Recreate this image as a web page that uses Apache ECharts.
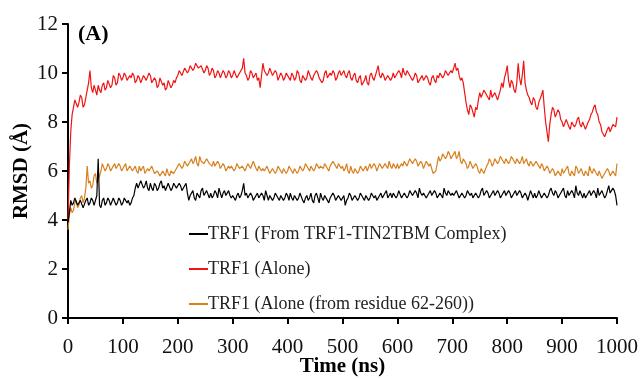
<!DOCTYPE html>
<html><head><meta charset="utf-8">
<script src="https://cdn.jsdelivr.net/npm/echarts@6/dist/echarts.min.js"></script>
<style>html,body{margin:0;padding:0;background:#fff}#c{width:643px;height:379px}</style>
</head><body><div id="c"></div>
<script>
// time axis (ns), one sample every 2.5 ns
const timeStart = 0, timeStep = 2.5;
const xTicks = [0,100,200,300,400,500,600,700,800,900,1000];
const yTicks = [0,2,4,6,8,10,12];
const seriesNames = ['TRF1 (From TRF1-TIN2TBM Complex)','TRF1 (Alone)','TRF1 (Alone (from residue 62-260))'];

const rmsdComplex = [
3.9,4.3,4.8,4.6,4.7,4.9,4.9,4.6,4.6,4.8,4.8,4.5,4.5,4.8,4.9,4.6,4.7,4.9,4.8,4.6,4.6,5.0,6.5,4.6,4.5,4.8,4.9,4.6,4.7,4.9,4.8,4.6,4.6,4.9,4.9,4.6,4.7,4.9,4.8,4.6,
4.7,4.9,4.9,4.7,4.8,4.6,4.7,4.9,5.0,5.3,5.5,5.3,5.3,5.6,5.6,5.3,5.4,5.6,5.3,5.2,5.5,5.3,5.2,5.5,5.4,5.2,5.3,5.5,5.6,5.3,5.4,5.2,5.2,5.5,5.5,5.2,5.3,5.5,5.4,5.3,
5.3,5.5,5.4,5.2,5.2,5.4,5.5,5.1,4.8,5.0,5.0,5.2,4.9,4.8,5.1,5.0,4.9,5.2,5.3,5.0,5.0,5.2,5.2,4.9,5.1,4.9,5.0,5.2,5.1,4.9,5.3,5.1,4.9,5.1,5.2,5.0,5.0,5.2,5.0,4.9,
5.0,4.9,4.8,5.0,5.1,4.9,5.0,5.2,5.5,5.0,5.1,4.9,4.9,5.1,5.0,4.8,4.8,5.0,5.1,4.9,4.9,5.1,5.0,4.8,5.2,5.0,4.8,5.0,5.0,4.8,4.9,5.1,5.1,4.9,4.8,5.0,5.0,4.8,4.9,5.1,
5.0,4.8,5.1,4.9,4.8,5.0,5.0,4.8,4.9,5.1,5.1,4.8,4.7,4.9,5.0,4.8,4.9,5.1,4.8,4.7,5.0,5.1,4.9,4.7,5.1,4.9,4.8,5.0,5.0,4.8,4.7,4.9,4.9,5.1,5.0,4.8,4.8,5.0,5.0,4.8,
4.9,5.0,4.6,4.8,4.9,5.1,5.0,4.8,4.8,5.0,5.0,4.8,4.9,5.1,5.1,4.9,4.8,5.0,5.0,4.8,4.9,5.1,5.1,4.9,5.0,4.8,4.8,5.0,5.1,4.9,4.9,5.1,5.2,4.9,5.0,5.1,4.9,5.1,5.1,4.9,
5.0,5.2,5.2,4.9,4.9,5.1,5.1,4.9,5.0,5.2,5.2,5.0,5.0,5.2,5.1,4.9,5.3,5.1,5.0,5.1,5.1,4.9,4.9,5.1,5.2,5.0,5.0,5.2,5.1,4.9,4.9,5.1,5.1,4.9,5.3,5.1,5.0,5.2,5.2,5.0,
5.1,5.0,5.0,5.2,5.2,4.9,4.9,5.1,5.1,4.9,5.0,5.2,5.2,5.0,5.1,4.9,4.9,5.1,5.1,4.9,5.0,5.2,5.3,5.0,5.0,5.2,5.1,4.9,4.9,5.1,5.2,5.0,5.0,5.2,5.1,4.9,4.9,5.1,5.2,5.0,
5.0,5.2,5.1,4.9,4.9,5.1,5.2,5.0,5.0,5.2,5.1,4.9,4.9,5.1,5.0,4.8,5.0,5.2,5.2,4.9,5.1,4.9,5.0,5.2,5.2,4.9,4.9,5.1,5.1,4.9,5.0,5.2,5.3,5.1,5.0,5.2,5.1,4.9,4.9,5.1,
5.1,5.3,5.0,4.9,5.2,5.0,5.0,5.2,5.1,4.9,5.4,5.1,5.0,5.2,5.2,4.9,5.1,4.9,4.9,5.1,5.2,5.0,5.0,5.2,5.1,4.9,5.3,5.0,5.0,5.2,5.2,4.9,5.0,5.2,5.4,5.1,5.1,5.3,5.2,5.0,
4.6
];
const rmsdAlone = [
4.0,6.2,7.6,8.3,8.6,8.9,8.9,8.6,8.8,9.1,9.0,8.6,8.7,9.0,9.3,9.6,10.1,9.4,9.2,9.5,9.3,9.1,9.5,9.3,9.2,9.5,9.6,9.3,9.4,9.7,9.7,9.4,9.5,9.9,9.8,9.5,9.6,10.0,9.9,9.7,
9.8,10.0,9.9,9.7,9.7,9.9,9.8,10.0,9.9,9.6,9.7,9.9,9.8,9.6,9.6,9.9,9.8,9.7,9.7,10.0,9.9,9.6,9.6,9.8,9.7,9.4,9.5,9.8,9.8,9.5,9.6,9.3,9.4,9.7,9.7,9.4,9.5,9.7,9.6,9.8,
9.9,10.1,10.1,9.9,9.9,10.2,10.2,10.0,10.1,10.3,10.3,10.1,10.2,10.4,10.4,10.2,10.2,10.3,10.3,10.0,10.1,10.3,10.2,9.9,10.0,10.2,10.1,9.8,9.9,10.1,10.0,9.8,9.8,10.1,10.0,9.8,9.9,10.1,10.0,9.8,
9.9,10.1,10.1,9.8,9.8,10.0,10.0,10.2,10.6,10.0,9.9,9.7,9.8,10.1,10.0,9.8,9.9,10.0,9.7,9.8,9.4,9.9,10.4,10.1,10.1,9.9,10.0,10.2,10.2,9.9,9.9,10.1,10.0,9.7,9.7,10.0,9.9,9.7,9.8,10.0,
10.0,9.8,9.7,10.0,9.9,9.7,9.8,10.1,10.0,9.7,9.6,9.9,9.9,9.7,9.8,10.1,10.1,9.8,9.7,9.9,9.9,10.1,10.0,9.8,9.8,9.6,9.7,10.0,10.1,9.8,9.8,10.0,9.9,10.1,10.0,9.7,9.8,10.0,10.1,9.9,
10.0,10.1,9.9,9.8,10.0,10.1,9.8,9.7,9.9,10.0,9.7,9.6,9.8,9.9,9.5,9.6,9.7,9.9,9.6,9.5,9.9,10.0,9.8,9.7,9.9,10.1,10.3,9.9,9.8,10.0,9.9,9.7,9.7,9.9,9.9,9.7,9.8,10.0,9.8,9.9,
9.9,10.1,10.0,9.8,10.2,10.0,9.9,10.1,10.1,9.9,9.9,9.7,9.8,10.0,9.9,9.6,9.6,9.8,9.9,9.7,9.7,9.9,9.8,9.6,9.5,9.8,9.9,9.7,9.6,9.9,9.8,10.0,10.0,9.8,9.9,10.1,10.1,9.9,9.9,10.1,
10.0,10.2,10.4,10.1,10.2,9.9,9.7,9.8,9.6,9.2,8.8,8.5,8.3,8.7,8.6,8.4,8.2,8.6,8.5,8.9,9.2,9.0,9.0,9.3,9.3,9.1,9.1,8.9,9.3,9.0,9.0,9.2,9.2,8.9,8.9,9.3,9.6,9.4,9.8,10.0,
10.3,9.7,9.4,9.7,9.6,9.3,9.2,9.6,10.4,9.8,9.5,9.9,10.5,9.6,9.3,9.1,9.0,8.8,8.7,9.0,8.9,8.6,8.5,8.8,8.8,9.1,9.3,8.6,8.0,7.6,7.2,7.9,8.3,8.6,8.5,8.2,8.2,8.5,8.4,8.1,
8.0,7.8,7.8,8.1,8.1,7.8,7.7,8.0,8.0,7.8,7.9,8.1,8.2,7.9,7.8,8.0,8.0,7.7,7.7,8.0,8.1,8.3,8.4,8.6,8.7,8.4,8.3,8.0,7.9,7.6,7.6,7.4,7.4,7.7,7.8,7.6,7.6,7.9,7.9,7.8,
8.2
];
const rmsdResidue = [
3.6,4.2,4.5,4.3,4.4,4.7,4.8,4.5,4.6,4.9,5.0,4.7,4.9,5.3,6.2,5.5,5.6,5.3,5.4,5.8,5.9,5.5,5.5,5.8,6.0,6.3,6.3,6.0,6.1,6.3,6.2,6.0,6.0,6.2,6.3,6.1,6.1,6.3,6.2,6.0,
6.1,6.2,6.3,6.0,6.0,6.2,6.2,6.0,6.1,6.2,6.0,5.9,6.2,6.0,6.1,6.2,5.9,5.9,6.1,6.0,6.0,6.2,6.2,5.9,5.9,6.0,6.0,5.8,5.8,6.0,5.9,5.8,6.1,5.9,5.8,6.0,6.0,5.9,6.0,6.1,
6.1,6.3,6.3,6.1,6.2,6.4,6.4,6.2,6.3,6.4,6.5,6.3,6.4,6.6,6.3,6.2,6.6,6.4,6.4,6.3,6.3,6.5,6.5,6.3,6.3,6.2,6.4,6.2,6.2,6.4,6.3,6.1,6.1,6.3,6.2,6.0,6.0,6.2,6.1,6.2,
6.2,6.0,6.1,6.3,6.3,6.1,6.1,6.2,6.2,6.0,6.0,6.3,6.3,6.1,6.1,6.4,6.4,6.1,6.0,6.2,6.2,6.0,6.1,6.0,6.0,6.2,6.2,5.9,5.9,6.1,6.1,5.9,6.0,6.2,6.2,6.0,5.9,6.1,6.1,5.9,
6.0,6.2,6.2,6.0,5.9,6.1,6.1,5.9,6.0,6.2,6.2,6.0,6.1,6.3,6.3,6.1,6.0,6.2,6.2,6.0,6.1,6.3,6.3,6.1,6.2,6.2,6.1,6.3,6.3,6.1,6.0,6.2,6.2,6.4,6.4,6.2,6.1,6.3,6.3,6.1,
6.2,6.0,6.1,6.3,6.0,5.9,6.2,6.0,5.9,6.1,6.1,5.9,6.0,6.2,6.2,6.0,6.1,6.2,6.0,6.0,6.3,6.1,6.1,6.3,6.2,6.0,6.0,6.3,6.3,6.1,6.1,6.3,6.2,6.1,6.4,6.2,6.1,6.3,6.2,6.1,
6.3,6.1,6.1,6.3,6.2,6.4,6.4,6.2,6.2,6.5,6.5,6.3,6.3,6.5,6.4,6.2,6.2,6.4,6.3,6.1,6.1,6.4,6.4,6.2,6.3,6.1,5.9,5.9,6.0,6.3,6.6,6.4,6.5,6.7,6.7,6.5,6.6,6.8,6.7,6.5,
6.5,6.7,6.8,6.5,6.6,6.8,6.4,6.3,6.5,6.4,6.3,6.1,6.2,6.4,6.4,6.1,6.1,6.3,6.2,6.0,5.9,6.1,6.0,5.9,5.9,6.2,6.3,6.5,6.4,6.2,6.3,6.5,6.5,6.3,6.4,6.6,6.6,6.4,6.3,6.5,
6.5,6.3,6.4,6.6,6.6,6.4,6.3,6.5,6.5,6.3,6.4,6.6,6.3,6.4,6.5,6.3,6.2,6.4,6.4,6.2,6.3,6.4,6.4,6.2,6.1,6.3,6.2,6.0,6.0,6.2,6.1,5.9,5.9,6.1,6.0,5.8,5.8,6.0,6.0,5.8,
6.1,5.9,5.9,6.1,6.2,5.9,5.8,6.0,6.0,5.8,6.2,6.1,5.9,6.0,6.1,5.9,5.8,6.0,6.0,5.8,6.2,6.0,5.9,6.1,6.1,5.9,5.8,6.0,6.0,5.7,5.7,5.9,5.9,6.1,6.0,5.8,5.8,6.0,5.9,5.8,
6.3
];

function pairs(arr){ return arr.map((v,i)=>[timeStart + i*timeStep, v]); }

const serif = '"Liberation Serif","Times New Roman",serif';
const chart = echarts.init(document.getElementById('c'), null, {renderer:'canvas'});
const axisCommon = {
  axisLine:{show:true, lineStyle:{color:'#000', width:2}},
  axisTick:{show:true, inside:false, length:6, lineStyle:{color:'#000', width:2}},
  splitLine:{show:false},
  axisLabel:{color:'#111', fontFamily:serif, fontSize:21}
};
chart.setOption({
  animation:false,
  backgroundColor:'#fff',
  grid:{left:68, right:26, top:24, bottom:61, containLabel:false, outerBoundsMode:'none'},
  title:{text:'(A)', left:73, top:18, textStyle:{fontFamily:serif, fontSize:22, fontWeight:'bold', color:'#000'}},
  legend:{
    orient:'vertical', left:189, top:225, padding:0, itemGap:17, itemWidth:19, itemHeight:2,
    icon:'rect',
    textStyle:{fontFamily:serif, fontSize:18, color:'#222', padding:[0,0,0,-5]},
    data:seriesNames
  },
  xAxis:Object.assign({}, axisCommon, {
    type:'value', min:0, max:1000, interval:100,
    name:'Time (ns)', nameLocation:'middle', nameGap:38, nameMoveOverlap:false,
    nameTextStyle:{fontFamily:serif, fontSize:21, fontWeight:'bold', color:'#000'},
    axisLabel:Object.assign({}, axisCommon.axisLabel, {margin:19, customValues: xTicks,
      formatter:(v)=>String(v)}),
    axisTick:Object.assign({}, axisCommon.axisTick, {customValues: xTicks})
  }),
  yAxis:Object.assign({}, axisCommon, {
    type:'value', min:0, max:12, interval:2,
    name:'RMSD (Å)', nameLocation:'middle', nameGap:36, nameRotate:90, nameMoveOverlap:false,
    nameTextStyle:{fontFamily:serif, fontSize:21, fontWeight:'bold', color:'#000'},
    axisLabel:Object.assign({}, axisCommon.axisLabel, {margin:10, customValues: yTicks,
      formatter:(v)=>String(v)}),
    axisTick:Object.assign({}, axisCommon.axisTick, {customValues: yTicks})
  }),
  series:[
    {name:seriesNames[1], type:'line', data:pairs(rmsdAlone), showSymbol:false, symbol:'none', z:2,
     lineStyle:{color:'#f01414', width:1.2}, itemStyle:{color:'#f01414'}},
    {name:seriesNames[2], type:'line', data:pairs(rmsdResidue), showSymbol:false, symbol:'none', z:3,
     lineStyle:{color:'#d8801e', width:1.2}, itemStyle:{color:'#d8801e'}},
    {name:seriesNames[0], type:'line', data:pairs(rmsdComplex), showSymbol:false, symbol:'none', z:4,
     lineStyle:{color:'#000', width:1.2}, itemStyle:{color:'#000'}}
  ]
});
</script></body></html>
